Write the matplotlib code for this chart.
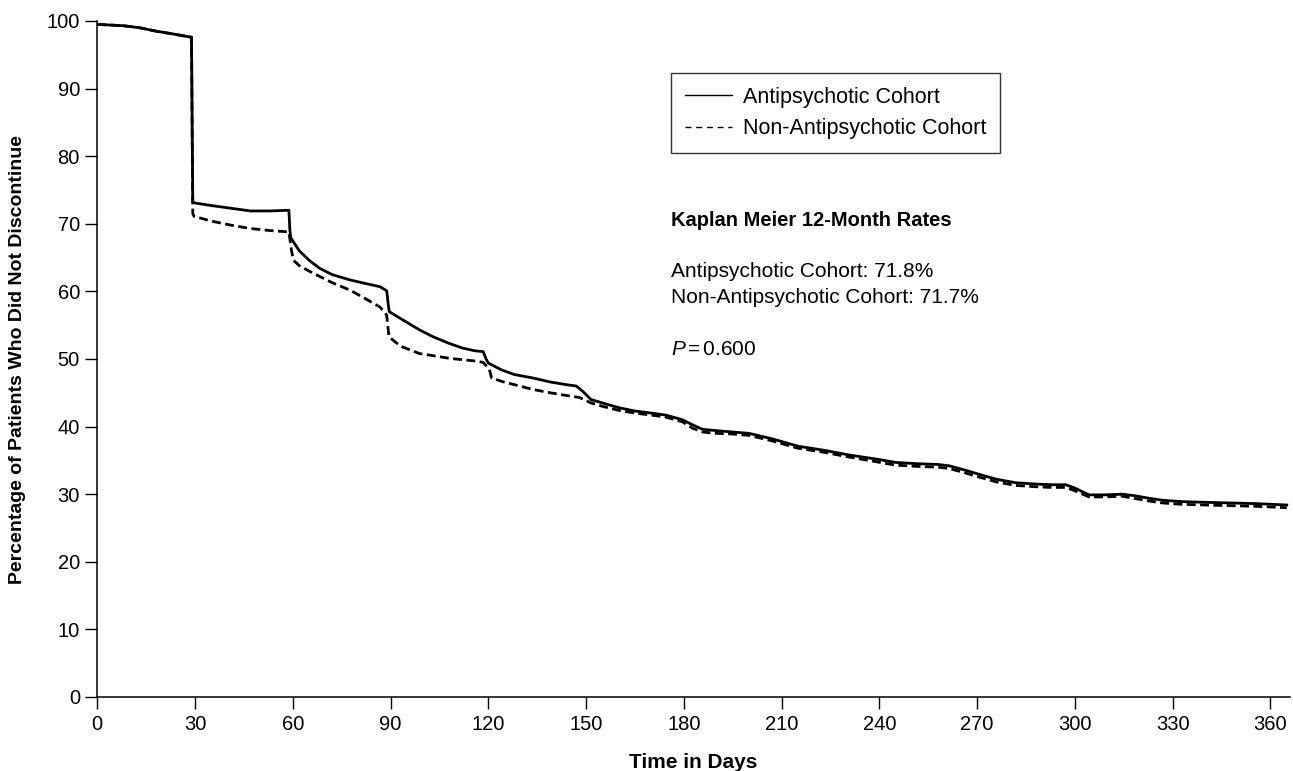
import matplotlib
matplotlib.use("Agg")
import matplotlib.pyplot as plt
from matplotlib.lines import Line2D

plt.rcParams['font.family'] = ['Liberation Sans', 'DejaVu Sans']
plt.rcParams['mathtext.fontset'] = 'custom'
plt.rcParams['mathtext.it'] = 'Liberation Sans:italic'
plt.rcParams['mathtext.rm'] = 'Liberation Sans'

# Kaplan-Meier curves (days, percent still on treatment)
days_ap = [0, 4, 8, 13, 18, 23, 28.9, 29.3, 29.7, 35, 41, 47, 53, 58.8,
           59.1, 59.4, 62, 65, 68.3, 72, 77.5, 82, 86.7, 88.8, 89.3, 89.6, 93, 98.9,
           103, 108, 112.2, 116, 118.4, 119.3, 120, 124, 128, 133.6, 139, 144, 147, 149,
           151.5, 155, 160, 165, 170, 174.5, 179.6, 182.5, 185.7, 190, 195, 200, 207, 215,
           223, 230.7, 239, 245, 252, 258, 261.4, 266, 271.6, 276, 281.8, 288, 293, 297.2,
           300, 304.3, 309, 314.5, 318, 322.7, 327, 332.9, 340, 348, 356, 365]
vals_ap = [99.5, 99.4, 99.3, 99.0, 98.5, 98.1, 97.6, 73.2, 73.1, 72.7, 72.3, 71.9, 71.9, 72.0,
           69.0, 67.9, 66.0, 64.6, 63.4, 62.5, 61.7, 61.2, 60.7, 60.1, 58.0, 57.0, 56.0, 54.3,
           53.3, 52.3, 51.6, 51.2, 51.1, 50.0, 49.4, 48.4, 47.7, 47.2, 46.6, 46.2, 46.0, 45.2,
           44.0, 43.5, 42.8, 42.3, 42.0, 41.7, 41.0, 40.3, 39.6, 39.4, 39.2, 39.0, 38.2, 37.1,
           36.5, 35.8, 35.2, 34.7, 34.5, 34.4, 34.2, 33.6, 32.8, 32.2, 31.7, 31.5, 31.4, 31.4,
           30.9, 29.9, 29.9, 30.0, 29.8, 29.4, 29.1, 28.9, 28.8, 28.7, 28.6, 28.4]

days_nap = [0, 4, 8, 13, 18, 23, 28.9, 29.3, 29.7, 35, 41, 47, 53, 58.8,
            59.6, 60.2, 62, 65, 68.3, 72, 77.5, 82, 86.7, 88, 88.8, 89.5, 93, 98.9,
            103, 108, 112, 116, 118.4, 120.3, 121, 124, 128, 133.6, 139, 144, 148, 151.5,
            155, 160, 165, 170, 174.5, 179.6, 182.5, 185.7, 190, 195, 200, 207, 215, 223,
            230.7, 239, 245, 252, 258, 261.4, 266, 271.6, 276, 281.8, 288, 293, 297.2, 300,
            304.3, 309, 314.5, 318, 322.7, 327, 332.9, 340, 348, 356, 365]
vals_nap = [99.5, 99.4, 99.3, 99.0, 98.5, 98.1, 97.6, 71.5, 71.1, 70.4, 69.8, 69.3, 69.0, 68.8,
            66.0, 64.6, 63.8, 63.0, 62.2, 61.3, 60.2, 59.0, 57.7, 57.0, 56.5, 53.3, 51.9, 50.8,
            50.5, 50.1, 49.9, 49.7, 49.5, 48.5, 47.2, 46.7, 46.2, 45.5, 45.0, 44.6, 44.3, 43.5,
            43.0, 42.4, 42.0, 41.7, 41.4, 40.7, 39.8, 39.2, 39.0, 38.9, 38.7, 37.9, 36.8, 36.2,
            35.5, 34.8, 34.3, 34.1, 34.0, 33.8, 33.2, 32.4, 31.8, 31.3, 31.1, 31.0, 31.0, 30.5,
            29.6, 29.6, 29.7, 29.4, 29.0, 28.7, 28.5, 28.4, 28.3, 28.2, 28.0]

labels = ['Antipsychotic Cohort', 'Non-Antipsychotic Cohort']
km_title = 'Kaplan Meier 12-Month Rates'
km_rates = ['Antipsychotic Cohort: 71.8%', 'Non-Antipsychotic Cohort: 71.7%']
p_text = r'$P\,$=$\,$0.600'
xticks = list(range(0, 361, 30))
yticks = list(range(0, 101, 10))

W, H = 1293, 771
fig = plt.figure(figsize=(W / 100, H / 100), dpi=100)
ax = fig.add_axes([97.3 / W, 1 - 697 / H, (1290 - 97.3) / W, (697 - 21) / H])

ax.plot(days_nap, vals_nap, color='black', lw=2.0, linestyle=(0, (3.2, 1.6)),
        solid_joinstyle='round')
ax.plot(days_ap, vals_ap, color='black', lw=2.0, solid_joinstyle='round')

ax.set_xlim(0, 366)
ax.set_ylim(0, 100)
ax.set_xticks(xticks)
ax.set_yticks(yticks)
ax.tick_params(axis='both', direction='out', length=8.5, width=1, labelsize=14.5,
               colors='black')
ax.tick_params(axis='y', pad=4)
ax.tick_params(axis='x', pad=4.5)
for s in ['top', 'right']:
    ax.spines[s].set_visible(False)
for s in ['left', 'bottom']:
    ax.spines[s].set_linewidth(1.1)

fig.text(693 / W, 1 - 768 / H, 'Time in Days', ha='center', va='baseline',
         fontsize=15, fontweight='bold')
fig.text(18 / W, 1 - 359 / H, 'Percentage of Patients Who Did Not Discontinue',
         ha='center', va='center', rotation=90, fontsize=14, fontweight='bold')

handles = [Line2D([], [], color='black', lw=1.0),
           Line2D([], [], color='black', lw=1.0, linestyle=(0, (4.3, 3.4)))]
leg = ax.legend(handles, labels, loc='upper left',
                bbox_to_anchor=(671 / W, 1 - 72.7 / H), bbox_transform=fig.transFigure,
                fontsize=15.5, frameon=True, fancybox=False, edgecolor='black',
                borderpad=0.65, handlelength=2.2, handletextpad=0.5, labelspacing=0.5,
                borderaxespad=0)
leg.get_frame().set_linewidth(1.0)

fig.text(671 / W, 1 - 220 / H, km_title, ha='left', va='center', fontsize=14.5,
         fontweight='bold')
fig.text(671 / W, 1 - 271.5 / H, km_rates[0], ha='left', va='center', fontsize=15)
fig.text(671 / W, 1 - 298 / H, km_rates[1], ha='left', va='center', fontsize=15)
fig.text(671 / W, 1 - 350 / H, p_text, ha='left', va='center', fontsize=15)

fig.savefig('out.png', dpi=100)
